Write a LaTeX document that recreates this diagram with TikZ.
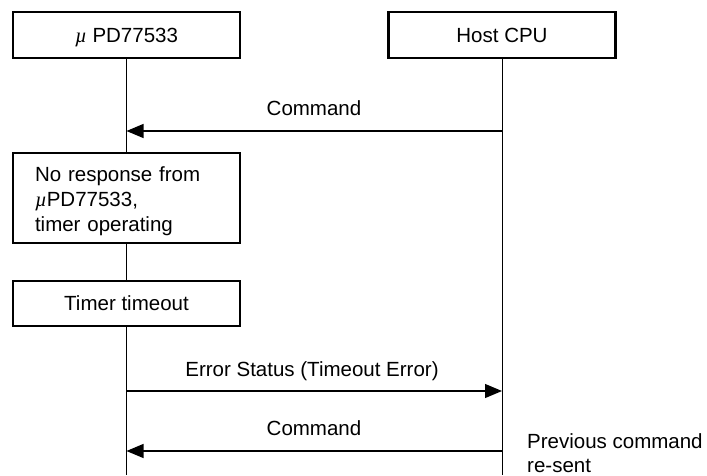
\documentclass[tikz,border=0pt]{standalone}
\usepackage{fontspec}
\setmainfont{Liberation Sans}
\newfontfamily\serifmu{Liberation Serif}
\usetikzlibrary{arrows.meta}
\newcommand{\mymu}{{\serifmu\itshape µ}}
\begin{document}
\begin{tikzpicture}[x=1pt,y=-1pt,
  every node/.style={font=\fontsize{20.5}{25}\selectfont},
  box/.style={draw,line width=2.2pt,minimum width=227pt,inner sep=0pt,fill=white},
  onebox/.style={box,text height=14.7pt,text depth=0pt},
  life/.style={line width=1pt},
  msg/.style={line width=1.2pt,-{Triangle[length=17pt,width=14pt]}},
  lbl/.style={anchor=base}]
\useasboundingbox (0,0) rectangle (707,475);
\node[onebox,minimum height=46pt] (L) at (126.5,35) {\mymu\ PD77533};
\node[onebox,minimum height=46pt] (R) at (502,35) {Host CPU};
\node[box,minimum height=90pt,align=left,text width=183pt,text height=17.4pt,text depth=50pt] (nr) at (126.5,198)
  {No response from\\ \mymu PD77533,\\ timer operating};
\node[onebox,minimum height=45pt] (tt) at (126.5,303.5) {Timer timeout};
\coordinate (Lend) at (126.5,475);
\coordinate (Rend) at (502,475);
\draw[life] (L) -- (nr);
\draw[life] (nr) -- (tt);
\draw[life] (tt) -- (Lend);
\draw[life] (R) -- (Rend);
\coordinate (a1r) at (502,131);
\coordinate (a1l) at (126.5,131);
\coordinate (a2l) at (126.5,391);
\coordinate (a2r) at (502,391);
\coordinate (a3r) at (502,451);
\coordinate (a3l) at (126.5,451);
\draw[msg] (a1r) -- (a1l);
\draw[msg] (a2l) -- (a2r);
\draw[msg] (a3r) -- (a3l);
\node[lbl] (t1) at (314,115) {Command};
\node[lbl] (t2) at (312,376) {Error Status (Timeout Error)};
\node[lbl] (t3) at (314,435) {Command};
\node[anchor=base west,inner sep=0pt] (t4) at (527,448) {Previous command};
\node[anchor=base west,inner sep=0pt] (t5) at (527,472) {re-sent};
\end{tikzpicture}
\end{document}
